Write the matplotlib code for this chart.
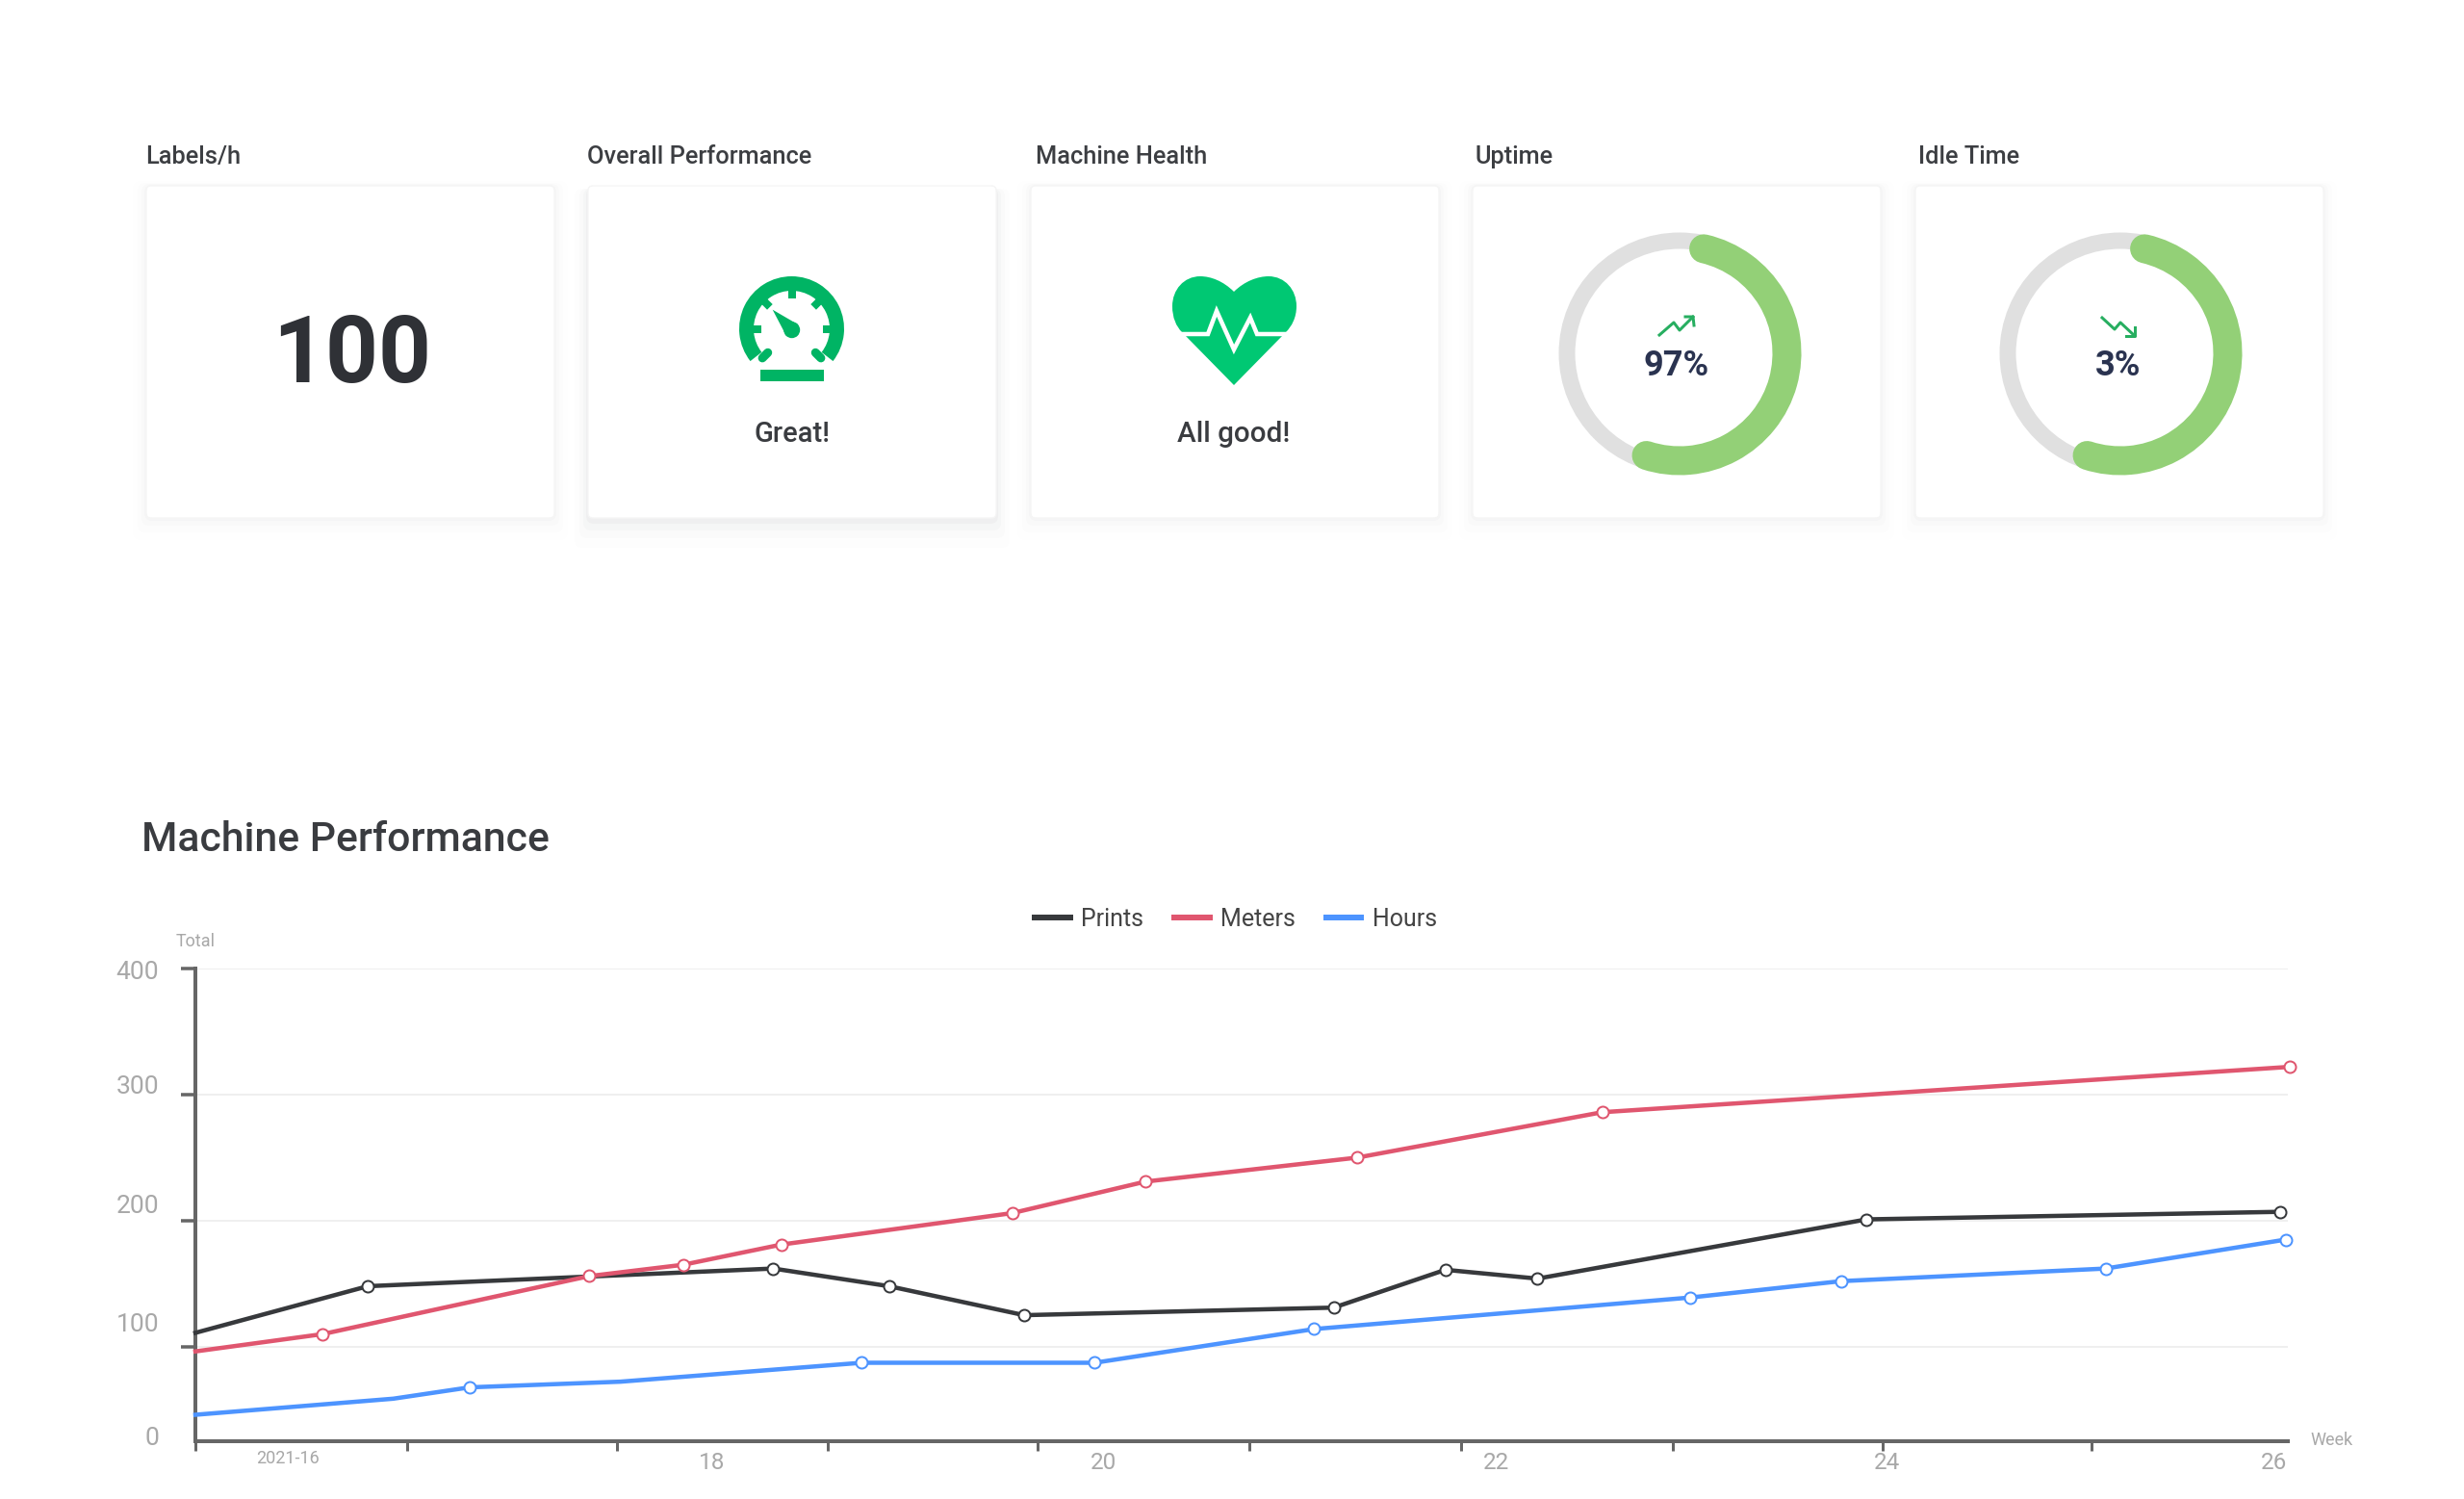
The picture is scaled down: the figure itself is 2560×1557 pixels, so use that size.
import numpy as np
import matplotlib
matplotlib.use("Agg")
import matplotlib.pyplot as plt
from matplotlib.lines import Line2D
from matplotlib.patches import Arc, Circle, FancyBboxPatch, PathPatch, Polygon, Rectangle, Wedge
from matplotlib.path import Path

plt.rcParams['font.family'] = ['Roboto', 'DejaVu Sans']

# ---- chart data ----
PRINTS_WEEK = [15.39, 16.27, 18.34, 18.93, 19.62, 21.20, 21.77, 22.24, 23.92, 26.03]
PRINTS_VAL = [111, 148, 162, 148, 125, 131, 161, 154, 201, 207]
PRINTS_MARKS = [1, 2, 3, 4, 5, 6, 7, 8, 9]

METERS_WEEK = [15.39, 16.04, 17.40, 17.88, 18.38, 19.56, 20.24, 21.32, 22.57, 26.08]
METERS_VAL = [95, 110, 156, 165, 181, 206, 231, 250, 286, 322]
METERS_MARKS = [1, 2, 3, 4, 5, 6, 7, 8, 9]

HOURS_WEEK = [15.39, 16.40, 16.79, 17.56, 18.79, 19.98, 21.10, 23.02, 23.79, 25.14, 26.06]
HOURS_VAL = [28, 45, 57, 63, 83, 83, 114, 139, 152, 162, 185]
HOURS_MARKS = [2, 4, 5, 6, 7, 8, 9, 10]

X_TICKS = [15.39, 16.47, 17.54, 18.62, 19.69, 20.77, 21.85, 22.93, 24.0, 25.07]
Y_TICKS = [100, 200, 300, 400]
Y_LABELS = ["400", "300", "200", "100", "0"]
X_LABELS = ["2021-16", "18", "20", "22", "24", "26"]

# value -> height on the axis, the bottom step of the source axis is shorter
Y_STOPS = [0, 100, 200, 300, 400]
Y_HEIGHTS = [0, 60, 140, 220, 300]

CARD_TITLES = ["Labels/h", "Overall Performance", "Machine Health", "Uptime", "Idle Time"]
LABELS_PER_H = "100"
UPTIME = "97%"
IDLE = "3%"

# ---- colours ----
DARK = '#37393C'
RED = '#E0566F'
BLUE = '#4D94FF'
GAUGE_GREEN = '#00B464'
HEART_GREEN = '#00C873'
RING_GREEN = '#93D077'
RING_GREY = '#E0E0E0'
ARROW_GREEN = '#27AE60'
NAVY = '#2A3350'
AXIS_GREY = '#666666'
LABEL_GREY = '#A8A8A8'

W, H = 2560, 1557
PX = 72 / 100  # one pixel in points at dpi 100

fig = plt.figure(figsize=(W / 100, H / 100), dpi=100, facecolor='white')

# pixel canvas for the cards and loose text
bg = fig.add_axes([0, 0, 1, 1])
bg.set_xlim(0, W)
bg.set_ylim(H, 0)
bg.axis('off')


def card(x0, x1, strong=False):
    y0, y1 = 193, 538
    # soft shadow
    steps = [(2, 1, 0.016), (5, 3, 0.010), (9, 6, 0.007), (14, 9, 0.004)]
    if strong:
        steps = [(2, 4, 0.03), (5, 8, 0.02), (9, 12, 0.013), (14, 17, 0.007)]
    for grow, drop, alpha in steps:
        bg.add_patch(FancyBboxPatch((x0 - grow, y0 - grow + drop), x1 - x0 + 2 * grow, y1 - y0 + 2 * grow,
                                    boxstyle="round,pad=0,rounding_size=8", fc='#303840', ec='none', alpha=alpha))
    bg.add_patch(FancyBboxPatch((x0, y0), x1 - x0, y1 - y0, boxstyle="round,pad=0,rounding_size=5",
                                fc='white', ec='#F5F5F5', lw=1))


def ptext(x, y, s, size, color=DARK, weight='normal', ha='center'):
    bg.text(x, y, s, fontsize=size, color=color, fontweight=weight, ha=ha, va='center')


def ring(cx, cy):
    bg.add_patch(Circle((cx, cy), 117, fill=False, ec=RING_GREY, lw=17 * PX))
    # canvas y points down, so these angles run clockwise from the right
    bg.add_patch(Arc((cx, cy), 223, 223, theta1=-77, theta2=108, color=RING_GREEN, lw=30 * PX, capstyle='round'))


card_x = [(152, 576), (611, 1035), (1071, 1495), (1530, 1954), (1990, 2414)]
title_x = [151, 610, 1076, 1532, 1993]
for i, (x0, x1) in enumerate(card_x):
    card(x0, x1, strong=(i == 1))
    ptext(title_x[i], 162.5, CARD_TITLES[i], 18.3, color='#3C3E42', weight='medium', ha='left')

ptext(366, 371, LABELS_PER_H, 69, color='#2F3136', weight='bold')

# gauge icon
gx, gy = 822.5, 341.5
bg.add_patch(Wedge((gx, gy), 54.5, -218, 38, width=15, fc=GAUGE_GREEN, ec='none'))
for ang in [0, 45, 90, 135, 180]:
    ca, sa = np.cos(np.radians(ang)), np.sin(np.radians(ang))
    bg.plot([gx + 32 * ca, gx + 42 * ca], [gy - 32 * sa, gy - 42 * sa], color=GAUGE_GREEN, lw=8 * PX, solid_capstyle='butt')
# hooked ends of the dial
for ang in [-45, 225]:
    ca, sa = np.cos(np.radians(ang)), np.sin(np.radians(ang))
    bg.plot([gx + 35 * ca, gx + 43 * ca], [gy - 35 * sa, gy - 43 * sa], color=GAUGE_GREEN, lw=9 * PX, solid_capstyle='round')
bg.add_patch(Circle((822.7, 342.7), 8.5, fc=GAUGE_GREEN, ec='none'))
bg.add_patch(Polygon([(802.7, 321.7), (829, 337), (817, 349)], fc=GAUGE_GREEN, ec='none'))
bg.add_patch(Rectangle((789.5, 383.5), 66.5, 12.5, fc=GAUGE_GREEN, ec='none'))
ptext(823, 451, "Great!", 21, color='#3A3C40', weight='medium')

# heart icon
verts = [(1282, 303),
         (1271, 292), (1258, 287), (1247, 287),
         (1230, 287), (1218, 301), (1218, 318),
         (1218, 330), (1222, 339), (1228, 345),
         (1282, 400),
         (1336, 345),
         (1342, 339), (1347, 330), (1347, 318),
         (1347, 301), (1335, 287), (1318, 287),
         (1307, 287), (1293, 292), (1282, 303)]
codes = [Path.MOVETO] + [Path.CURVE4] * 9 + [Path.LINETO, Path.LINETO] + [Path.CURVE4] * 9
bg.add_patch(PathPatch(Path(verts, codes), fc=HEART_GREEN, ec='none'))
bg.plot([1215, 1255, 1264, 1282, 1299, 1306, 1350], [347, 347, 323, 363, 330, 347, 347],
        color='white', lw=4.5 * PX, solid_joinstyle='miter')
ptext(1282, 451, "All good!", 21.3, color='#3A3C40', weight='medium')

# uptime and idle rings
ring(1745, 367)
ring(2203, 367)
bg.plot([1724, 1739, 1745, 1759], [348, 335, 343, 329], color=ARROW_GREEN, lw=3 * PX)
bg.plot([1751, 1759, 1760], [329, 329, 338], color=ARROW_GREEN, lw=3 * PX)
bg.plot([2184, 2197, 2203, 2218], [330, 342, 335, 349], color=ARROW_GREEN, lw=3 * PX)
bg.plot([2218, 2218, 2209], [340, 349, 349], color=ARROW_GREEN, lw=3 * PX)
ptext(1742, 380, UPTIME, 26, color=NAVY, weight='bold')
ptext(2201, 380, IDLE, 26, color=NAVY, weight='bold')

ptext(147, 872, "Machine Performance", 30.8, color='#3A3C40', weight='medium', ha='left')

# ---- line chart ----
ax_left, ax_right, ax_top, ax_bottom = 203, 2377, 1006, 1497
ax = fig.add_axes([ax_left / W, 1 - ax_bottom / H, (ax_right - ax_left) / W, (ax_bottom - ax_top) / H])
ax.patch.set_alpha(0)


def to_height(v):
    return np.interp(v, Y_STOPS, Y_HEIGHTS)


def from_height(h):
    return np.interp(h, Y_HEIGHTS, Y_STOPS)


ax.set_yscale('function', functions=(to_height, from_height))
ax.set_xlim(15.39, 26.07)
ax.set_ylim(0, 400)

ax.set_yticks(Y_TICKS)
ax.set_xticks(X_TICKS)
ax.minorticks_off()
ax.set_xticklabels([])
ax.set_yticklabels([])
ax.grid(axis='y', color='#EFEFEF', lw=2 * PX)
ax.set_axisbelow(True)
ax.tick_params(axis='y', length=15 * PX, width=3.5 * PX, color=AXIS_GREY)
ax.tick_params(axis='x', length=10 * PX, width=3 * PX, color=AXIS_GREY)
for side in ['top', 'right']:
    ax.spines[side].set_visible(False)
for side in ['left', 'bottom']:
    ax.spines[side].set_color(AXIS_GREY)
    ax.spines[side].set_linewidth(4 * PX)

for xs, ys, marks, col in [(PRINTS_WEEK, PRINTS_VAL, PRINTS_MARKS, DARK),
                           (METERS_WEEK, METERS_VAL, METERS_MARKS, RED),
                           (HOURS_WEEK, HOURS_VAL, HOURS_MARKS, BLUE)]:
    ax.plot(xs, ys, color=col, lw=4.5 * PX, marker='o', markevery=marks, ms=12 * PX,
            mfc='white', mec=col, mew=2 * PX, clip_on=False, zorder=3)

handles = [Line2D([], [], color=c, lw=6 * PX) for c in [DARK, RED, BLUE]]
ax.legend(handles, ["Prints", "Meters", "Hours"], loc='center', bbox_to_anchor=(1284 / W, 1 - 955 / H),
          bbox_transform=fig.transFigure, ncol=3, frameon=False, fontsize=18, labelcolor='#444444',
          handlelength=1.45, handletextpad=0.45, columnspacing=1.3, borderpad=0)

# tick labels sit off their ticks in the source, so they go on the pixel canvas
for s, y in zip(Y_LABELS, [1010, 1129, 1253, 1376, 1494]):
    bg.text(165, y, s, fontsize=19, color=LABEL_GREY, ha='right', va='center')
for s, x in zip(X_LABELS, [299, 740, 1146, 1554, 1961, 2363]):
    if s == "2021-16":
        bg.text(x, 1515, s, fontsize=13, color=LABEL_GREY, ha='center', va='center')
    else:
        bg.text(x, 1520, s, fontsize=17.5, color=LABEL_GREY, ha='center', va='center')
bg.text(203, 978, "Total", fontsize=13, color=LABEL_GREY, ha='center', va='center')
bg.text(2423, 1496, "Week", fontsize=13, color=LABEL_GREY, ha='center', va='center')

fig.savefig('out.png', dpi=100, facecolor='white')
